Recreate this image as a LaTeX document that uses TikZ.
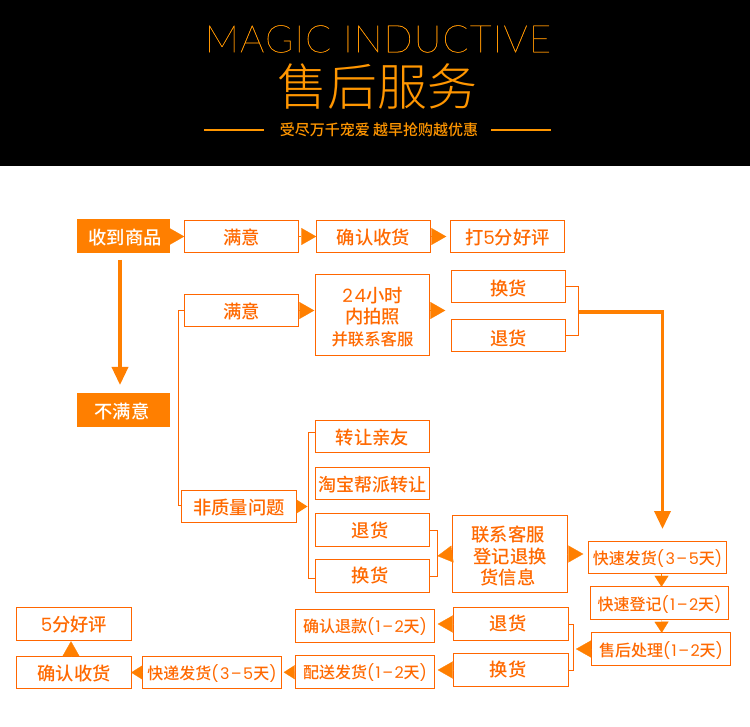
\documentclass[tikz,border=0pt]{standalone}
\usepackage{fontspec}
\setmainfont{Noto Sans CJK SC Medium}
\newfontfamily\latinthin[LetterSpace=3.5,FakeBold=0.5]{Lato Thin}
\newfontfamily\cjklight{Noto Sans CJK SC Light}
\newfontfamily\numwide[LetterSpace=9]{Poppins}
\usetikzlibrary{arrows.meta,calc}
\definecolor{boxline}{HTML}{FF6600}
\definecolor{tipfill}{HTML}{FF7F00}
\definecolor{headtext}{HTML}{FF9600}
\newcommand{\dayspan}[2]{{\numwide(#1–#2}天{\numwide)}}
\tikzset{
  box/.style={draw=boxline,line width=1pt,fill=white,text=boxline!90!tipfill,inner sep=0pt,outer sep=0pt,
    minimum height=32.5pt,minimum width=114.5pt,align=center,text height=16pt,text depth=0pt,
    font=\fontsize{18.3}{23}\selectfont},
  tallbox/.style={box,text height=,text depth=},
  widebox/.style={box,minimum width=138.5pt,text height=14.5pt,font=\fontsize{16}{20}\selectfont},
  solidbox/.style={fill=tipfill,inner sep=0pt,outer sep=0pt,minimum height=34pt,minimum width=93pt,
    text=white,text height=16pt,text depth=0pt,font=\fontsize{18.3}{22}\selectfont},
  tip/.style={draw=tipfill,line width=.2pt,-{Triangle[length=15pt,width=17pt,fill=tipfill]}},
  smalltip/.style={draw=tipfill,line width=.2pt,-{Triangle[length=11pt,width=14pt,fill=tipfill]}},
  bracket/.style={draw=boxline,line width=1pt},
  longtip/.style={draw=tipfill,line width=3.5pt,-{Triangle[length=18pt,width=16pt,fill=tipfill]}},
}
\begin{document}
\begin{tikzpicture}[x=1pt,y=-1pt]
\useasboundingbox (0,0) rectangle (750,727);
\fill[white] (0,0) rectangle (750,727);
% title band
\fill[black] (0,0) rectangle (750,166);
\node[text=headtext,inner sep=0pt,font=\latinthin\fontsize{38}{38}\selectfont] (titleen) at (378,39) {MAGIC INDUCTIVE};
\node[text=headtext,inner sep=0pt,font=\cjklight\fontsize{50}{50}\selectfont] (titlecn) at (377,87) {售后服务};
\node[text=headtext,inner sep=0pt,font=\fontsize{15}{16}\selectfont] (slogan) at (379,130) {受尽万千宠爱 越早抢购越优惠};
\draw[draw=headtext,line width=1.2pt] ([xshift=-16]slogan.west) -- ++(-60,0);
\draw[draw=headtext,line width=1.2pt] ([xshift=13]slogan.east) -- ++(60,0);

% first row
\node[solidbox] (received) at (123.5,236.5) {\hspace*{3pt}收到商品};
\node[box] (ok) at (241.5,236.5) {满意};
\node[box] (confirm) at (373.5,236.5) {确认收货};
\node[box] (fivestar) at (507.5,236.5) {打{\numwide 5}分好评};
\draw[tip] (received) -- (ok);
\draw[tip] (ok) -- (confirm);
\draw[tip,shorten >=4pt] (confirm) -- (fivestar);

% not satisfied
\node[solidbox] (notok) at (123.5,410) {不满意\hspace*{3pt}};
\draw[longtip,shorten >=8pt] ([xshift=-3.5]received.south) ++(0,6.5) -- ([xshift=-3.5]notok.north);

% quality problem
\node[tallbox,minimum height=81pt,font=\fontsize{18.3}{21.5}\selectfont] (photo) at (372.5,315.5) {\rule{0pt}{18pt}{\numwide 24}小时\\内拍照\\{\fontsize{16.4}{21.5}\selectfont 并联系客服}};
\node[box] (okb) at (241.5,310.5) {满意};
\node[box,text height=18pt] (swapa) at (508.5,286.5) {换货};
\node[box,text height=21pt] (backa) at (508.5,335.5) {退货};
\coordinate (forka) at (578.5,312);
\draw[bracket] (okb.west) -| (178.5,505) -- (181,505);
\draw[tip,shorten >=1pt] (okb.east) -- (okb.east -| photo.west);
\draw[tip,shorten >=6pt] (photo.east |- okb.east) -- (swapa.west |- okb.east);
\draw[bracket] (swapa.east) -| (forka) |- (backa.east);

% no quality problem
\node[box,minimum width=115pt] (other) at (239,506.5) {非质量问题};
\node[box,text height=15pt] (friend) at (372.5,436.5) {转让亲友};
\node[box,font=\fontsize{18}{23}\selectfont] (taobao) at (372.5,483.5) {淘宝帮派转让};
\node[box,text height=14pt] (backb) at (372.5,530) {退货\hspace*{5pt}};
\node[box,text height=12pt] (swapb) at (372.5,576) {换货\hspace*{5pt}};
\draw[bracket] (friend.west) ++(0,-4.5) -- ++(-6.5,0) |- ($(swapb.west)+(0,2)$);
\fill[tipfill] (other.east) ++(0,-7) -- ++(11,7) -- ++(-11,7) -- cycle;

% service steps
\node[tallbox,minimum height=77pt,font=\fontsize{18.3}{21.5}\selectfont] (service) at (510,554) {\rule{0pt}{20pt}联系客服\hspace*{4pt}\\登记退换\hspace*{4pt}\\货信息\hspace*{4pt}};
\node[widebox] (sendout) at (657.5,557.5) {快速发货\dayspan{3}{5}};
\node[widebox] (register) at (659.5,603) {快速登记\dayspan{1}{2}};
\node[widebox] (handle) at (661,649) {售后处理\dayspan{1}{2}};
\node[box,text height=13pt] (backc) at (511,624) {退货\hspace*{6pt}};
\node[box,text height=12pt] (swapc) at (511,670) {换货\hspace*{6pt}};
\node[widebox,text height=13pt] (refund) at (365,626) {确认退款\dayspan{1}{2}};
\node[widebox,text height=13pt] (deliver) at (365,672) {配送发货\dayspan{1}{2}};
\node[widebox] (express) at (212,672.5) {快递发货\dayspan{3}{5}};
\node[box] (confirmb) at (74,672.5) {确认收货};
\node[box,text height=14pt] (fiveb) at (74,624) {{\numwide 5}分好评};
\coordinate (forkb) at (437.5,556);
\coordinate (forkc) at (573.5,649);
\coordinate (dropend) at (662.5,529);
\draw[bracket] (backb.east) -| (forkb) |- (swapb.east);
\draw[tip] (service.west) -- (forkb);
\draw[tip,shorten >=5pt] (service.east) -- (service.east -| sendout.west);
\draw[longtip] (forka) -| (dropend);
\draw[smalltip] ([xshift=4]sendout.south) -- ([xshift=2]register.north);
\draw[smalltip] ([xshift=2]register.south) -- ([xshift=.7]handle.north);
\draw[bracket] (backc.east) -| (forkc) |- (swapc.east);
\draw[tip,shorten >=2.5pt] (handle.west) -- (forkc);
\draw[tip,shorten >=3.5pt] (backc.west) -- (backc.west -| refund.east);
\draw[tip,shorten >=3.5pt] (swapc.west) -- (swapc.west -| deliver.east);
\draw[smalltip,shorten >=2.5pt] (deliver) -- (express);
\draw[smalltip] (express) -- (confirmb);
\draw[tip,shorten >=1pt] ([xshift=-3]confirmb.north) -- ([xshift=-3]fiveb.south);
\end{tikzpicture}
\end{document}
